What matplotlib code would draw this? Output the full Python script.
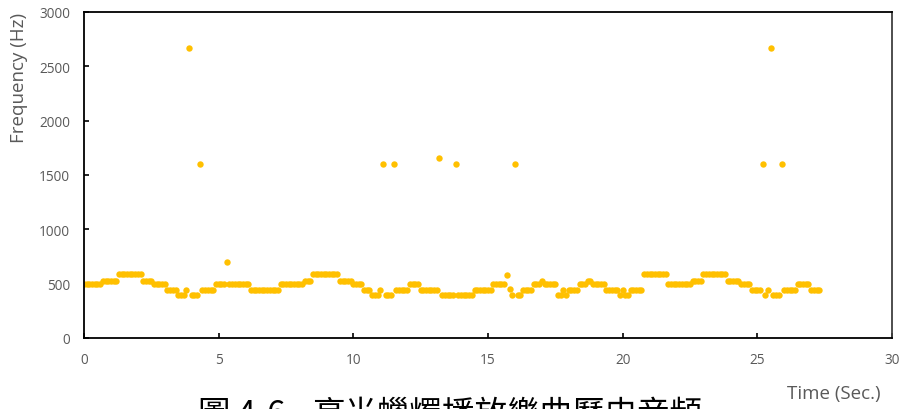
import matplotlib.pyplot as plt
import numpy as np

# Abtastschritt der Frequenzmessung in Sekunden
sample_step = 0.1

# gemessene Frequenz (Hz), eine Zeile pro Sekunde
freq_hz = [
    494, 494, 494, 494, 494, 494, 494, 523, 523, 523,
    523, 523, 523, 587, 587, 587, 587, 587, 587, 587,
    587, 587, 523, 523, 523, 523, 494, 494, 494, 494,
    494, 440, 440, 440, 440, 392, 392, 392, 440, 2665,
    392, 392, 392, 1598, 440, 440, 440, 440, 440, 494,
    494, 494, 494, 702, 494, 494, 494, 494, 494, 494,
    494, 494, 440, 440, 440, 440, 440, 440, 440, 440,
    440, 440, 440, 494, 494, 494, 494, 494, 494, 494,
    494, 494, 523, 523, 523, 587, 587, 587, 587, 587,
    587, 587, 587, 587, 587, 523, 523, 523, 523, 523,
    494, 494, 494, 494, 440, 440, 440, 392, 392, 392,
    440, 1598, 392, 392, 392, 1598, 440, 440, 440, 440,
    440, 494, 494, 494, 494, 440, 440, 440, 440, 440,
    440, 440, 1653, 392, 392, 392, 392, 392, 1598, 392,
    392, 392, 392, 392, 392, 440, 440, 440, 440, 440,
    440, 440, 494, 494, 494, 494, 494, 580, 451, 392,
    1598, 392, 392, 440, 440, 440, 440, 494, 494, 494,
    523, 494, 494, 494, 494, 494, 392, 392, 440, 392,
    440, 440, 440, 440, 494, 494, 494, 523, 523, 494,
    494, 494, 494, 494, 440, 440, 440, 440, 440, 392,
    440, 392, 392, 440, 440, 440, 440, 440, 587, 587,
    587, 587, 587, 587, 587, 587, 587, 494, 494, 494,
    494, 494, 494, 494, 494, 494, 523, 523, 523, 523,
    587, 587, 587, 587, 587, 587, 587, 587, 587, 523,
    523, 523, 523, 523, 494, 494, 494, 494, 440, 440,
    440, 440, 1598, 392, 440, 2665, 392, 392, 392, 1598,
    440, 440, 440, 440, 440, 494, 494, 494, 494, 494,
    440, 440, 440, 440,
]

x_ticks = [0, 5, 10, 15, 20, 25, 30]
y_ticks = [0, 500, 1000, 1500, 2000, 2500, 3000]

fig_number = '圖 4-6'
caption = '亮光蠟燭播放樂曲歷史音頻'

text_grey = '#595959'
cjk_font = ['Noto Sans CJK TC', 'DejaVu Sans']


def plot_frequency(times, freqs):
    fig = plt.figure(figsize=(9.06, 4.10), dpi=100)
    ax = fig.add_axes([0.0927, 0.1732, 0.8918, 0.7951])

    ax.plot(times, freqs, linestyle='none', marker='o', markersize=4.6,
            markerfacecolor='#FFC000', markeredgewidth=0)

    ax.set_xlim(0, 30)
    ax.set_ylim(0, 3000)
    ax.set_xticks(x_ticks)
    ax.set_yticks(y_ticks)

    for side in ['left', 'bottom', 'top']:
        ax.spines[side].set_color('black')
        ax.spines[side].set_linewidth(1.3)
    ax.spines['right'].set_color('#404040')
    ax.spines['right'].set_linewidth(1.3)

    ax.tick_params(axis='both', direction='in', length=3.5, width=1.2,
                   labelsize=9.8, labelcolor=text_grey)
    ax.tick_params(axis='y', pad=10)
    ax.tick_params(axis='x', pad=10)
    for lbl in ax.get_xticklabels() + ax.get_yticklabels():
        lbl.set_fontfamily('Open Sans')

    ax.set_ylabel('Frequency (Hz)', fontsize=13.5, color=text_grey,
                  fontfamily='Open Sans', loc='top', labelpad=8)
    fig.text(0.92, 0.04, 'Time (Sec.)', fontsize=13.5, color=text_grey,
             fontfamily='Open Sans', ha='center', va='center')

    # Bildunterschrift, nur der obere Teil liegt noch im Bild
    fig.text(0.2185, -0.034, fig_number, fontsize=23.4, color='black',
             family=cjk_font, ha='left', va='baseline')
    fig.text(0.3444, -0.034, caption, fontsize=23.4, color='black',
             family=cjk_font, ha='left', va='baseline')

    fig.savefig('out.png', dpi=100)


def main():
    freqs = np.array(freq_hz)
    times = np.arange(len(freqs)) * sample_step
    plot_frequency(times, freqs)


if __name__ == "__main__":
    main()
